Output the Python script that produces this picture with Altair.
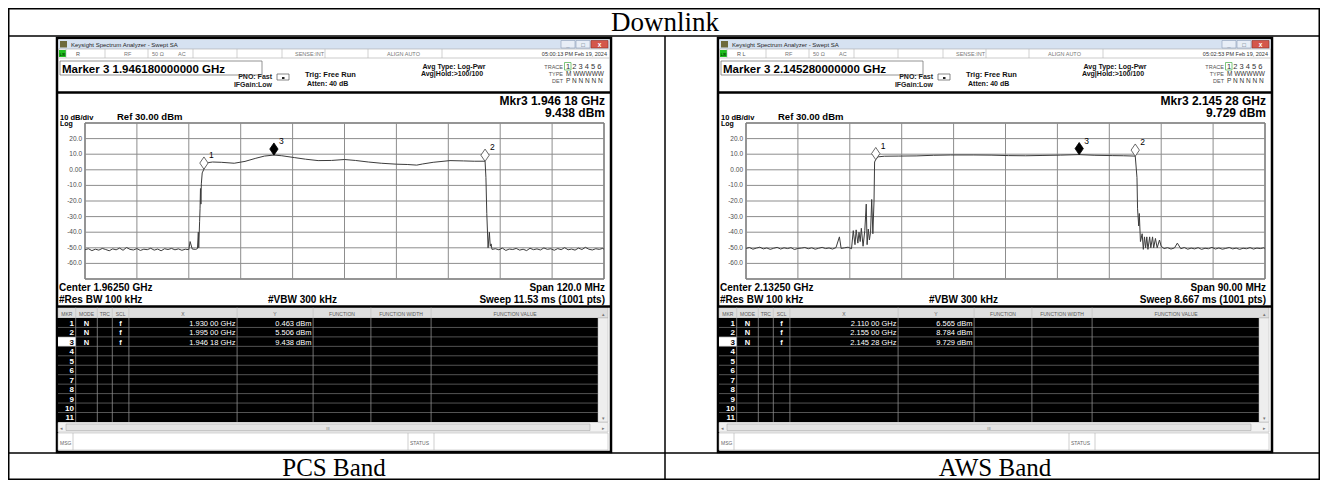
import altair as alt
import pandas as pd

# ------------------------------------------------------------------ data
TITLE = "Downlink"
CAPTIONS = ["PCS Band", "AWS Band"]

DB_RANGE = [-70, 30]
DB_LEVELS = [30, 20, 10, 0, -10, -20, -30, -40, -50, -60, -70]
DB_LABEL_LEVELS = [20, 10, 0, -10, -20, -30, -40, -50, -60]
DB_LABELS = ["20.0", "10.0", "0.00", "-10.0", "-20.0", "-30.0", "-40.0", "-50.0", "-60.0"]
MARKER_NAMES = ["1", "2", "3"]
ACTIVE_MARKER = "3"

# PCS band sweep (MHz, dBm)
PCS_RANGE_MHZ = [1902.5, 2022.5]
PCS_TICKS_MHZ = [1902.5, 1914.5, 1926.5, 1938.5, 1950.5, 1962.5, 1974.5, 1986.5, 1998.5, 2010.5, 2022.5]
PCS_FREQ_MHZ = [
    1902.5, 1903.3, 1904.1, 1904.9, 1905.7, 1906.5, 1907.3, 1908.1, 1908.9, 1909.7,
    1910.5, 1911.3, 1912.1, 1912.9, 1913.7, 1914.5, 1915.3, 1916.1, 1916.9, 1917.7,
    1918.5, 1919.3, 1920.1, 1920.9, 1921.7, 1922.5, 1923.3, 1924.1, 1924.9, 1925.7,
    1926.5, 1926.8, 1927.3, 1928.1,
    1928.5, 1928.7, 1928.8, 1929.0, 1929.1, 1929.2, 1929.3, 1929.4, 1929.6,
    1930.0, 1930.4, 1931.0, 1932.0, 1934.0, 1937.0, 1939.5, 1942.0, 1944.0, 1946.18,
    1948.0, 1951.0, 1953.5, 1956.4, 1959.5, 1962.5, 1965.0, 1968.0, 1971.0, 1974.5,
    1977.0, 1979.2, 1980.5, 1983.0, 1986.9, 1990.0, 1992.5, 1995.0,
    1995.2, 1995.4, 1995.7, 1996.0, 1996.2, 1996.4, 1996.6,
    1997.4, 1998.2, 1999.0, 1999.8, 2000.6, 2001.4, 2002.2, 2003.0, 2003.8, 2004.6,
    2005.4, 2006.2, 2007.0, 2007.8, 2008.6, 2009.4, 2010.2, 2011.0, 2011.8, 2012.6,
    2013.4, 2014.2, 2015.0, 2015.8, 2016.6, 2017.4, 2018.2, 2019.0, 2019.8, 2020.6,
    2021.4, 2022.2, 2022.5,
]
PCS_DBM = [
    -51.2, -50.6, -51.8, -50.9, -51.5, -50.4, -51.1, -51.9, -50.7, -51.3,
    -50.2, -51.6, -49.8, -51.0, -51.4, -50.5, -51.7, -50.9, -51.2, -50.3,
    -51.5, -50.8, -51.9, -50.6, -51.1, -50.4, -51.3, -50.7, -51.6, -50.9,
    -51.2, -46.0, -50.8, -51.0,
    -50.5, -40.0, -50.0, -33.0, -25.0, -12.0, -22.0, -9.0, -2.0,
    0.46, 3.0, 4.6, 5.0, 4.8, 4.2, 5.4, 7.4, 8.8, 9.44,
    9.0, 7.8, 6.8, 5.9, 6.0, 6.6, 6.0, 5.0, 4.2, 3.6,
    3.4, 3.0, 3.7, 4.8, 5.9, 5.7, 5.5, 5.51,
    -5.0, -28.0, -50.0, -40.0, -49.0, -47.5, -51.0,
    -50.6, -51.3, -50.2, -51.7, -50.8, -51.1, -50.4, -51.5, -50.9, -51.8,
    -50.3, -51.2, -50.7, -51.4, -50.1, -51.0, -50.6, -51.6, -50.5, -51.2,
    -49.9, -51.3, -50.8, -51.5, -50.2, -51.1, -49.7, -50.9, -51.4, -50.6,
    -51.0, -50.4, -50.9,
]
PCS_MKR_MHZ = [1930.00, 1995.00, 1946.18]
PCS_MKR_DBM = [0.463, 5.506, 9.438]
PCS_MKR_X = ["1.930 00 GHz", "1.995 00 GHz", "1.946 18 GHz"]
PCS_MKR_Y = ["0.463 dBm", "5.506 dBm", "9.438 dBm"]

# AWS band sweep (MHz, dBm)
AWS_RANGE_MHZ = [2087.5, 2177.5]
AWS_TICKS_MHZ = [2087.5, 2096.5, 2105.5, 2114.5, 2123.5, 2132.5, 2141.5, 2150.5, 2159.5, 2168.5, 2177.5]
AWS_FREQ_MHZ = [
    2087.5, 2088.1, 2088.7, 2089.3, 2089.9, 2090.5, 2091.1, 2091.7, 2092.3, 2092.9,
    2093.5, 2094.1, 2094.7, 2095.3, 2095.9, 2096.5, 2097.1, 2097.7, 2098.3, 2098.9,
    2099.5, 2100.1, 2100.7, 2101.3, 2101.9, 2102.5, 2103.1, 2103.7, 2104.0, 2104.6,
    2105.2, 2105.8,
    2106.1, 2106.4, 2106.6, 2106.9, 2107.1, 2107.3, 2107.5, 2107.8, 2108.1, 2108.35,
    2108.5, 2108.7, 2108.9, 2109.1, 2109.3, 2109.5, 2109.7, 2109.8,
    2110.0, 2110.4, 2111.5, 2114.0, 2117.0, 2120.0, 2123.0, 2127.0, 2130.0, 2133.0,
    2136.0, 2139.0, 2142.0, 2145.28, 2148.0, 2151.0, 2153.0, 2155.0,
    2155.3, 2155.4, 2155.6, 2155.7, 2155.9, 2156.2, 2156.4, 2156.6, 2156.8, 2157.0,
    2157.2, 2157.5, 2157.7, 2158.0, 2158.2, 2158.5, 2158.8, 2159.2, 2159.5,
    2160.0, 2160.6, 2161.2, 2161.8, 2162.3, 2162.9, 2163.5, 2164.1, 2164.7, 2165.3,
    2165.9, 2166.5, 2167.1, 2167.7, 2168.3, 2168.9, 2169.5, 2170.1, 2170.7, 2171.3,
    2171.9, 2172.5, 2173.1, 2173.7, 2174.3, 2174.9, 2175.5, 2176.1, 2176.7, 2177.3,
    2177.5,
]
AWS_DBM = [
    -50.4, -49.8, -50.9, -50.2, -49.6, -50.7, -50.1, -51.0, -50.3, -49.7,
    -50.8, -50.0, -50.5, -49.9, -51.1, -50.4, -50.2, -49.8, -50.6, -50.0,
    -50.9, -50.3, -49.7, -50.5, -50.1, -50.8, -49.9, -43.0, -50.4, -50.0,
    -49.6, -50.6,
    -39.0, -48.0, -38.5, -47.0, -40.0, -46.0, -37.5, -49.0, -39.0, -22.0,
    -48.0, -38.0, -45.0, -40.0, -19.0, -41.0, -20.0, 5.0,
    6.57, 8.3, 8.7, 8.8, 8.9, 9.3, 9.5, 9.5, 9.4, 9.1,
    9.0, 9.2, 9.4, 9.73, 9.3, 9.1, 9.0, 8.78,
    -5.0, -25.0, -36.0, -28.0, -46.0, -41.0, -51.0, -43.0, -50.0, -43.0,
    -51.0, -43.0, -50.0, -43.0, -50.0, -44.0, -50.0, -45.0, -49.0,
    -50.5, -49.9, -50.8, -50.1, -47.0, -50.6, -49.8, -50.9, -50.2, -50.7,
    -49.9, -51.0, -50.3, -50.6, -49.7, -50.8, -50.1, -50.9, -50.4, -49.8,
    -50.7, -50.2, -51.0, -50.3, -50.6, -49.9, -50.8, -50.2, -50.5, -50.0,
    -50.4,
]
AWS_MKR_MHZ = [2110.00, 2155.00, 2145.28]
AWS_MKR_DBM = [6.565, 8.784, 9.729]
AWS_MKR_X = ["2.110 00 GHz", "2.155 00 GHz", "2.145 28 GHz"]
AWS_MKR_Y = ["6.565 dBm", "8.784 dBm", "9.729 dBm"]

PANELS = [
    dict(dx=0, rng=PCS_RANGE_MHZ, ticks=PCS_TICKS_MHZ, f=PCS_FREQ_MHZ, d=PCS_DBM,
         mf=PCS_MKR_MHZ, md=PCS_MKR_DBM, mx=PCS_MKR_X, my=PCS_MKR_Y,
         rl="R", stamp="05:00:13 PM Feb 19, 2024", marker_line="Marker 3 1.946180000000 GHz",
         mkr_f="Mkr3 1.946 18 GHz", mkr_v="9.438 dBm", center="Center 1.96250 GHz",
         span="Span 120.0 MHz", sweep="Sweep  11.53 ms (1001 pts)"),
    dict(dx=661, rng=AWS_RANGE_MHZ, ticks=AWS_TICKS_MHZ, f=AWS_FREQ_MHZ, d=AWS_DBM,
         mf=AWS_MKR_MHZ, md=AWS_MKR_DBM, mx=AWS_MKR_X, my=AWS_MKR_Y,
         rl="R L", stamp="05:02:53 PM Feb 19, 2024", marker_line="Marker 3 2.145280000000 GHz",
         mkr_f="Mkr3 2.145 28 GHz", mkr_v="9.729 dBm", center="Center 2.13250 GHz",
         span="Span 90.00 MHz", sweep="Sweep  8.667 ms (1001 pts)"),
]
assert len(PCS_FREQ_MHZ) == len(PCS_DBM), (len(PCS_FREQ_MHZ), len(PCS_DBM))
assert len(AWS_FREQ_MHZ) == len(AWS_DBM), (len(AWS_FREQ_MHZ), len(AWS_DBM))

# ------------------------------------------------------------------ layout helpers
SANS = "Liberation Sans"
SERIF = "Liberation Serif"
OX = OY = 8            # page margin: reference pixel -> chart pixel
W, H = 1312, 472

RECTS, RULES, TEXTS = [], [], []


def X(v):
    return v - OX


def Y(v):
    return v - OY


def rect(x1, y1, x2, y2, fill, stroke="transparent", sw=0.0):
    RECTS.append(dict(x1=X(x1), y1=Y(y1), x2=X(x2), y2=Y(y2), fill=fill, stroke=stroke, sw=sw))


def line(x1, y1, x2, y2, color="#000000", sw=1.0):
    RULES.append(dict(x1=X(x1), y1=Y(y1), x2=X(x2), y2=Y(y2), color=color, sw=sw))


def text(x, y, t, size=7.0, color="#000000", weight="normal", align="left", font=SANS):
    TEXTS.append(dict(x=X(x), y=Y(y), t=t, size=size, color=color, weight=weight, align=align, font=font))


# outer document table
line(8.75, 8.75, 1319.25, 8.75, "#000", 1.5)
line(8, 36, 1320, 36, "#000", 1.5)
line(8, 453, 1320, 453, "#000", 1.5)
line(8.75, 479.25, 1319.25, 479.25, "#000", 1.5)
line(8.75, 8, 8.75, 480, "#000", 1.5)
line(1319.25, 8, 1319.25, 480, "#000", 1.5)
line(665, 36, 665, 480, "#000", 1.5)
text(665, 31, TITLE, 27, "#000", "normal", "center", SERIF)
text(334, 475.5, CAPTIONS[0], 25, "#000", "normal", "center", SERIF)
text(995, 475.5, CAPTIONS[1], 25, "#000", "normal", "center", SERIF)

COLS = [75.7, 97.3, 112.3, 128.9, 237.1, 313.1, 370.9, 431.1]
HEAD = [("MKR", 66.8), ("MODE", 86.5), ("TRC", 104.8), ("SCL", 120.6), ("X", 183),
        ("Y", 275), ("FUNCTION", 342), ("FUNCTION WIDTH", 401), ("FUNCTION VALUE", 515)]


def window(p):
    dx = p["dx"]
    L, R = 57 + dx, 611 + dx
    rect(L, 38, R, 452, "#ffffff", "#000000", 2.5)
    # title bar
    rect(L + 1.5, 39.5, R - 1.5, 49, "#d6e2f1")
    rect(L + 3, 41, L + 10, 47.5, "#6e6a3c")
    text(L + 14, 46.8, "Keysight Spectrum Analyzer - Swept SA", 6, "#1e1e1e")
    rect(R - 50, 40.5, R - 36, 48, "#e8eef7", "#8a9bb5", 0.6)
    rect(R - 35, 40.5, R - 21, 48, "#e8eef7", "#8a9bb5", 0.6)
    rect(R - 20, 40.5, R - 3, 48, "#d4574b", "#8e2c22", 0.6)
    text(R - 43, 46.5, "_", 6, "#445566", "bold", "center")
    text(R - 28, 46.8, "□", 6, "#445566", "bold", "center")
    text(R - 11.5, 46.8, "x", 6.5, "#ffffff", "bold", "center")
    # status row
    rect(L + 1.5, 49, R - 1.5, 58, "#ffffff", "#a8a8a8", 0.6)
    rect(L + 2, 50, L + 9, 57, "#1fbf1f")
    text(L + 5.5, 55.6, "LXI", 3.5, "#003300", "bold", "center")
    for c in [66, 105, 148, 193, 237, 282, 325, 368, 442]:
        line(c + dx, 49, c + dx, 58, "#b4b4b4", 0.6)
    text(76 + dx, 55.8, p["rl"], 5.5, "#555555")
    text(124 + dx, 55.8, "RF", 5.5, "#777777")
    text(152 + dx, 55.8, "50 Ω", 5.5, "#777777")
    text(178 + dx, 55.8, "AC", 5.5, "#777777")
    text(295 + dx, 55.8, "SENSE:INT", 5.5, "#777777")
    text(387 + dx, 55.8, "ALIGN AUTO", 5.5, "#777777")
    text(607 + dx, 55.8, p["stamp"], 5.5, "#333333", "normal", "right")
    # settings area
    rect(60 + dx, 61, 262 + dx, 75, "#ffffff", "#7a7a7a", 0.8)
    text(62 + dx, 72.5, p["marker_line"], 11.5, "#000000", "bold")
    text(272 + dx, 79, "PNO: Fast", 7, "#222222", "bold", "right")
    text(272 + dx, 87, "IFGain:Low", 7, "#222222", "bold", "right")
    rect(277 + dx, 74, 289 + dx, 80, "#ffffff", "#555555", 0.7)
    rect(282 + dx, 77, 284.5 + dx, 79, "#222222")
    text(305 + dx, 77, "Trig: Free Run", 7.5, "#111111", "bold")
    text(307 + dx, 86, "Atten: 40 dB", 7, "#111111", "bold")
    text(454 + dx, 68.5, "Avg Type: Log-Pwr", 7, "#111111", "bold", "center")
    text(452 + dx, 75.5, "Avg|Hold:>100/100", 7, "#111111", "bold", "center")
    text(563 + dx, 68.5, "TRACE", 5.5, "#555555", "normal", "right")
    text(563 + dx, 75.5, "TYPE", 5.5, "#555555", "normal", "right")
    text(563 + dx, 82.5, "DET", 5.5, "#555555", "normal", "right")
    rect(564.5 + dx, 62.5, 571 + dx, 70, "transparent", "#5cb85c", 0.8)
    text(566 + dx, 68.5, "1 2 3 4 5 6", 7.5, "#333333")
    text(566 + dx, 75.5, "M WWWWW", 6.5, "#333333")
    text(566 + dx, 82.5, "P N N N N N", 6.5, "#333333")
    # graph area
    line(L, 92.5, R, 92.5, "#000000", 2.5)
    text(605 + dx, 105, p["mkr_f"], 12, "#000000", "bold", "right")
    text(605 + dx, 116.5, p["mkr_v"], 12, "#000000", "bold", "right")
    text(60 + dx, 120, "10 dB/div", 7.5, "#000000", "bold")
    text(60 + dx, 125.5, "Log", 7, "#000000", "bold")
    text(117 + dx, 120, "Ref 30.00 dBm", 9.5, "#000000", "bold")
    rect(85 + dx, 123, 604 + dx, 279, "transparent", "#3a3a3a", 1)
    text(59 + dx, 291, p["center"], 10, "#000000", "bold")
    text(605 + dx, 291, p["span"], 10, "#000000", "bold", "right")
    text(59 + dx, 302.5, "#Res BW 100 kHz", 10, "#000000", "bold")
    text(268 + dx, 302.5, "#VBW 300 kHz", 10, "#000000", "bold")
    text(605 + dx, 302.5, p["sweep"], 10, "#000000", "bold", "right")
    line(L, 306.5, R, 306.5, "#000000", 2.5)
    # marker table
    T0, RH = 318.0, 9.45
    rect(58 + dx, 307.5, 608 + dx, T0, "#dedede", "#a5a5a5", 0.5)
    rect(58 + dx, T0, 598 + dx, T0 + 11 * RH, "#000000")
    rect(598 + dx, T0, 608 + dx, T0 + 11 * RH, "#eeeeee", "#b5b5b5", 0.5)
    rect(58 + dx, T0 + 2 * RH, 75.7 + dx, T0 + 3 * RH, "#ffffff")
    for c in COLS:
        line(c + dx, 307.5, c + dx, T0 + 11 * RH, "#bdbdbd", 0.6)
    for i in range(1, 11):
        line(58 + dx, T0 + i * RH, 598 + dx, T0 + i * RH, "#8c8c8c", 0.6)
    for lab, cx in HEAD:
        text(cx + dx, 315.6, lab, 5, "#5a5a5a", "normal", "center")
    text(603 + dx, 315.6, "▴", 5, "#777777", "normal", "center")
    text(603 + dx, T0 + 11 * RH - 1.5, "▾", 5, "#777777", "normal", "center")
    for i in range(11):
        base = T0 + i * RH + 7.9
        col = "#000000" if i == 2 else "#ffffff"
        text(74 + dx, base, str(i + 1), 8, col, "bold", "right")
    for i in range(3):
        base = T0 + i * RH + 7.9
        text(86.5 + dx, base, "N", 7.5, "#ffffff", "bold", "center")
        text(120.6 + dx, base, "f", 7.5, "#ffffff", "bold", "center")
        text(235.5 + dx, base, p["mx"][i], 7.5, "#ffffff", "normal", "right")
        text(311.5 + dx, base, p["my"][i], 7.5, "#ffffff", "normal", "right")
    # scroll bar + message line
    rect(58 + dx, 422.5, 608 + dx, 432, "#f2f2f2", "#b5b5b5", 0.5)
    rect(66 + dx, 424, 590 + dx, 430.5, "#e4e4e4", "#a0a0a0", 0.5)
    text(328 + dx, 429.5, "III", 4, "#777777", "normal", "center")
    text(61.5 + dx, 429.5, "◂", 5, "#777777", "normal", "center")
    text(603 + dx, 429.5, "▸", 5, "#777777", "normal", "center")
    rect(58 + dx, 433, 608 + dx, 450, "#ffffff", "#a8a8a8", 0.5)
    line(73 + dx, 433, 73 + dx, 450, "#b0b0b0", 0.6)
    line(408 + dx, 433, 408 + dx, 450, "#b0b0b0", 0.6)
    line(434 + dx, 433, 434 + dx, 450, "#b0b0b0", 0.6)
    text(60 + dx, 444.5, "MSG", 5, "#666666")
    text(410 + dx, 444.5, "STATUS", 5, "#666666")


for p in PANELS:
    window(p)

DIAMOND = "M0,-1L0.68,0L0,1L-0.68,0Z"


def spectrum(p):
    dx = p["dx"]
    xs = alt.Scale(domain=p["rng"], range=[X(85 + dx), X(604 + dx)], nice=False, zero=False)
    ys = alt.Scale(domain=DB_RANGE, range=[Y(279), Y(123)], nice=False, zero=False)
    hgrid = alt.Chart(pd.DataFrame({"db": DB_LEVELS})).mark_rule(color="#8d8d8d", strokeWidth=1).encode(
        y=alt.Y("db:Q", scale=ys, axis=None), x=alt.value(X(85 + dx)), x2=alt.value(X(604 + dx)))
    vgrid = alt.Chart(pd.DataFrame({"f": p["ticks"]})).mark_rule(color="#8d8d8d", strokeWidth=1).encode(
        x=alt.X("f:Q", scale=xs, axis=None), y=alt.value(Y(123)), y2=alt.value(Y(279)))
    ylab = alt.Chart(pd.DataFrame({"db": DB_LABEL_LEVELS, "lab": DB_LABELS})).mark_text(
        align="right", baseline="middle", font=SANS, fontSize=6.5, color="#4d4d4d").encode(
        y=alt.Y("db:Q", scale=ys, axis=None), x=alt.value(X(82 + dx)), text="lab:N")
    trace = alt.Chart(pd.DataFrame({"f": p["f"], "db": p["d"]})).mark_line(
        color="#3c3c3c", strokeWidth=1).encode(
        x=alt.X("f:Q", scale=xs, axis=None), y=alt.Y("db:Q", scale=ys, axis=None))
    mk = pd.DataFrame({"f": p["mf"], "db": p["md"], "lab": MARKER_NAMES})
    mk["active"] = mk["lab"] == ACTIVE_MARKER
    enc = dict(x=alt.X("f:Q", scale=xs, axis=None), y=alt.Y("db:Q", scale=ys, axis=None))
    open_pts = alt.Chart(mk[~mk["active"]]).mark_point(
        shape=DIAMOND, size=150, filled=True, fill="#ffffff", stroke="#444444",
        strokeWidth=0.8, opacity=1, yOffset=-6).encode(**enc)
    act_pts = alt.Chart(mk[mk["active"]]).mark_point(
        shape=DIAMOND, size=150, filled=True, fill="#000000", stroke="#000000",
        strokeWidth=0.8, opacity=1, yOffset=-6).encode(**enc)
    labels = alt.Chart(mk).mark_text(
        align="left", baseline="alphabetic", dx=5, dy=-11, font=SANS, fontSize=8.5,
        color="#000000").encode(text="lab:N", **enc)
    return [hgrid, vgrid, ylab, trace, open_pts, act_pts, labels]


rect_layer = alt.Chart(pd.DataFrame(RECTS)).mark_rect().encode(
    x=alt.X("x1:Q", scale=None, axis=None), x2="x2:Q",
    y=alt.Y("y1:Q", scale=None, axis=None), y2="y2:Q",
    fill=alt.Fill("fill:N", scale=None, legend=None),
    stroke=alt.Stroke("stroke:N", scale=None, legend=None),
    strokeWidth=alt.StrokeWidth("sw:Q", scale=None, legend=None))

rule_layer = alt.Chart(pd.DataFrame(RULES)).mark_rule().encode(
    x=alt.X("x1:Q", scale=None, axis=None), x2="x2:Q",
    y=alt.Y("y1:Q", scale=None, axis=None), y2="y2:Q",
    color=alt.Color("color:N", scale=None, legend=None),
    strokeWidth=alt.StrokeWidth("sw:Q", scale=None, legend=None))

layers = [rect_layer, rule_layer]
for p in PANELS:
    layers += spectrum(p)

tdf = pd.DataFrame(TEXTS)
for (font, weight, align), g in tdf.groupby(["font", "weight", "align"]):
    layers.append(
        alt.Chart(g.reset_index(drop=True)).mark_text(
            font=font, fontWeight=weight, align=align, baseline="alphabetic").encode(
            x=alt.X("x:Q", scale=None, axis=None),
            y=alt.Y("y:Q", scale=None, axis=None),
            text="t:N",
            size=alt.Size("size:Q", scale=None, legend=None),
            color=alt.Color("color:N", scale=None, legend=None)))

chart = alt.layer(*layers).properties(
    width=W, height=H, padding=0, background="#ffffff",
    autosize=alt.AutoSizeParams(type="none"),
).resolve_scale(
    x="independent", y="independent", color="independent", size="independent",
    fill="independent", stroke="independent", strokeWidth="independent",
).configure_view(stroke=None)

chart.save("out.html", embed_options={"renderer": "svg", "actions": False})
